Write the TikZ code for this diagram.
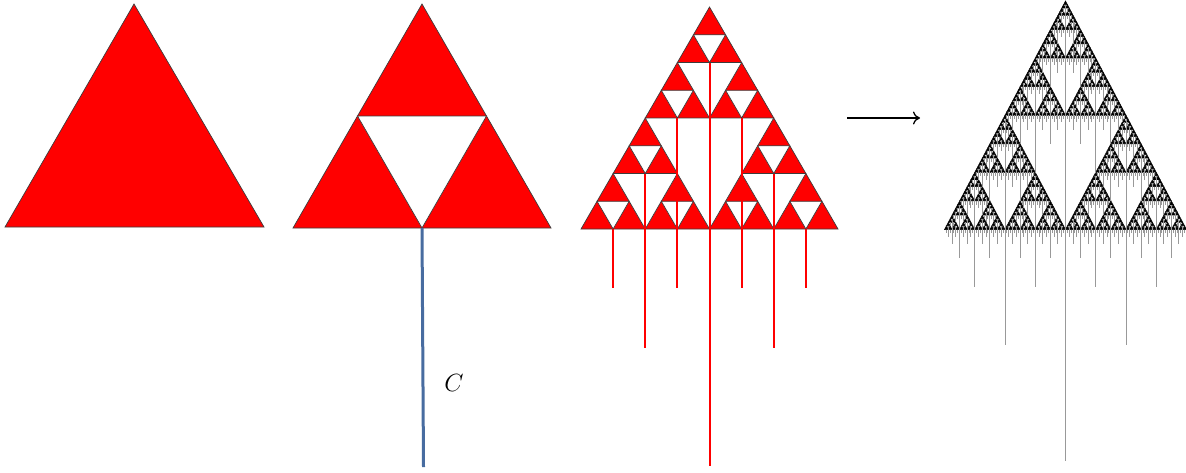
\documentclass[tikz,border=0pt]{standalone}
\usetikzlibrary{arrows.meta}
\definecolor{tri}{RGB}{255,0,0}
\definecolor{edge}{RGB}{60,60,60}
\definecolor{cblue}{RGB}{72,108,160}
\tikzset{
  redtri/.style={fill=tri,draw=edge,line width=0.7pt,line join=miter},
  redhole/.style={fill=white,draw=edge,line width=0.7pt},
  redhang/.style={draw=tri,line width=2pt},
  blktri/.style={fill=black,draw=black,line width=0.5pt},
  blkhole/.style={fill=white,draw=black,line width=0.55pt},
  grayhang/.style={draw=black!40,line width=1pt},
  curveC/.style={draw=cblue,line width=3pt},
  arrowline/.style={draw=black,line width=1.3pt,-{To[length=7pt,width=13pt]}},
  lab/.style={font=\fontsize{30}{30}\selectfont,inner sep=0pt}
}
% recursive limit fractal: #1 depth, #2 left base x, #3 base y, #4 width, #5 height
\newcommand\fracdraw[5]{%
  \ifnum#1>0\relax
  \begingroup
    \pgfmathsetmacro\fxm{#2+#4/2}%
    \pgfmathsetmacro\fxa{#2+#4/4}%
    \pgfmathsetmacro\fxb{#2+3*#4/4}%
    \pgfmathsetmacro\fyt{#3-#5/2}%
    \pgfmathsetmacro\fwh{#4/2}%
    \pgfmathsetmacro\fhh{#5/2}%
    \pgfmathsetmacro\fratio{#4/\fL}%
    \pgfmathsetmacro\fyl{#3+\fC*\fratio}%
    \pgfmathtruncatemacro\fdd{#1-1}%
    \ifnum\fracmode=0\relax
      \path[blkhole] (\fxa,\fyt) -- (\fxb,\fyt) -- (\fxm,#3) -- cycle;
    \else
      \path[grayhang] (\fxm,#3) -- (\fxm,\fyl);
    \fi
    \edef\fnext{%
      \noexpand\fracdraw{\fdd}{#2}{#3}{\fwh}{\fhh}%
      \noexpand\fracdraw{\fdd}{\fxm}{#3}{\fwh}{\fhh}%
      \noexpand\fracdraw{\fdd}{\fxa}{\fyt}{\fwh}{\fhh}}%
    \fnext
  \endgroup
  \fi}
\begin{document}
\begin{tikzpicture}[x=1pt,y=-1pt]
\useasboundingbox (0,0) rectangle (1186,472);
% stage 1
\path[redtri] (5,227) -- (134,4) -- (264,227) -- cycle;
% stage 2
\path[redtri] (293,228) -- (422,4) -- (551,228) -- cycle;
\path[redhole] (357.5,116) -- (486.5,116) -- (422,228) -- cycle;
\coordinate (c2top) at (422,228);
\coordinate (c2bot) at (423.5,467);
\path[curveC] (c2top) -- (c2bot);
\node[lab] (labC) at (454,383) {$C$};
% stage 3 : sub-triangles (left x, base y, width, height) holding a hole
\path[redtri] (581,229) -- (709.5,7) -- (838,229) -- cycle;
\def\stagethree{581/229/257/222,
  581/229/128.5/111, 709.5/229/128.5/111, 645.25/118/128.5/111,
  581/229/64.25/55.5, 645.25/229/64.25/55.5, 613.125/173.5/64.25/55.5,
  709.5/229/64.25/55.5, 773.75/229/64.25/55.5, 741.625/173.5/64.25/55.5,
  645.25/118/64.25/55.5, 709.5/118/64.25/55.5, 677.375/62.5/64.25/55.5}
\foreach \xl/\yb/\w/\h in \stagethree
  \path[redhole] ({\xl+\w/4},{\yb-\h/2}) -- ({\xl+3*\w/4},{\yb-\h/2}) -- ({\xl+\w/2},\yb) -- cycle;
\foreach \xl/\yb/\w/\h in \stagethree
  \path[redhang] ({\xl+\w/2},\yb) -- ({\xl+\w/2},{229+\w/257*237});
% arrow
\coordinate (arrA) at (847,118);
\coordinate (arrB) at (920,118);
\path[arrowline] (arrA) -- (arrB);
% stage 4 (limit)
\path[blktri] (944.5,229.5) -- (1065.5,1) -- (1186.5,229.5) -- cycle;
\def\fC{231}\def\fL{242}
\def\fracmode{0}
\fracdraw{6}{944.5}{229.5}{242}{228.5}
\def\fracmode{1}
\fracdraw{7}{944.5}{229.5}{242}{228.5}
\end{tikzpicture}
\end{document}
